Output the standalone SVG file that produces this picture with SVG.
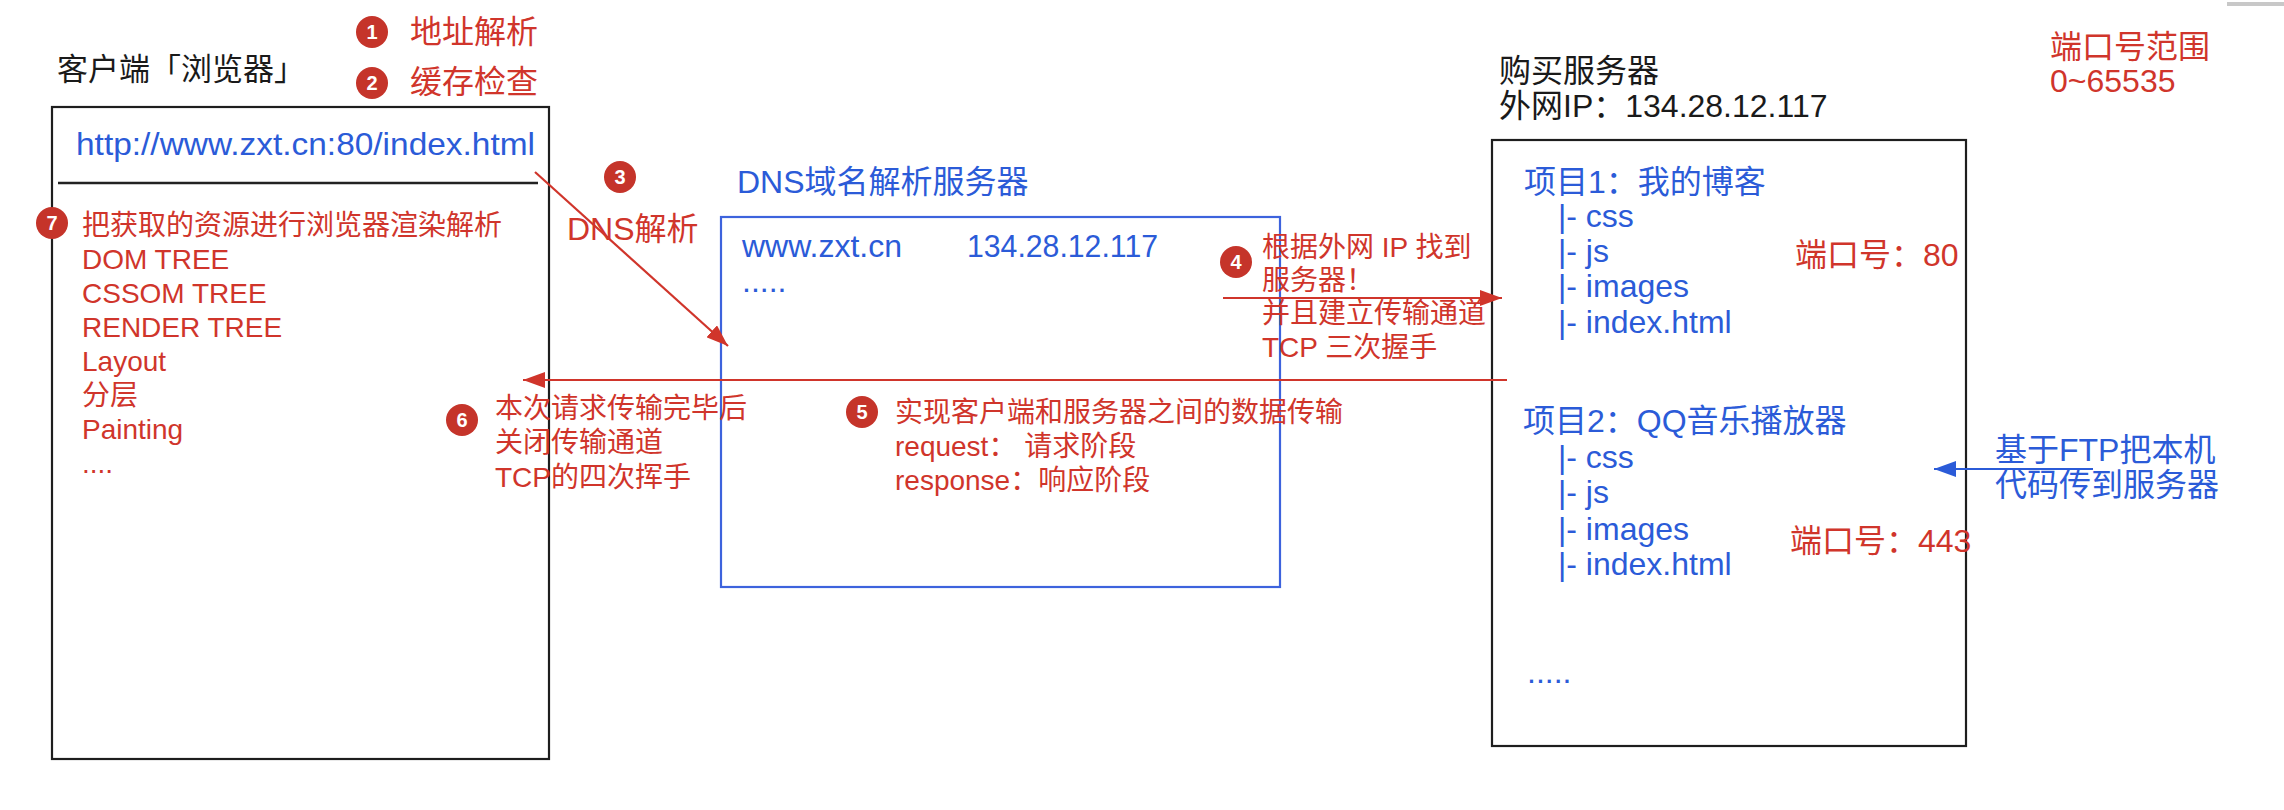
<svg xmlns="http://www.w3.org/2000/svg" width="2284" height="810" viewBox="0 0 2284 810">
<style>
text{font-family:"Liberation Sans","Noto Sans CJK SC",Arial,sans-serif;}
.blk{fill:#1a1a1a;font-size:31px;}
.blu{fill:#2b5bd8;font-size:32px;}
.red{fill:#d0352b;font-size:32px;}
.reds{fill:#d0352b;font-size:28px;}
.num{fill:#fff;font-family:"Liberation Sans",Arial,sans-serif;font-weight:bold;font-size:20px;text-anchor:middle;}
.badge{fill:#c5342a;}
.box{fill:none;stroke:#1e1e1e;stroke-width:2.2;}
.dns{fill:none;stroke:#3d63dd;stroke-width:2.2;}
.rline{stroke:#d0352b;stroke-width:2.2;fill:none;}
.bline{stroke:#2b5bd8;stroke-width:2.2;fill:none;}
</style>
<defs>
<marker id="ah-red" markerUnits="userSpaceOnUse" markerWidth="22" markerHeight="16" refX="22" refY="8" orient="auto"><path d="M0,0 L22,8 L0,16 z" fill="#d0352b"/></marker>
<marker id="ah-blue" markerUnits="userSpaceOnUse" markerWidth="22" markerHeight="16" refX="22" refY="8" orient="auto"><path d="M0,0 L22,8 L0,16 z" fill="#2b5bd8"/></marker>
</defs>
<rect x="0" y="0" width="2284" height="810" fill="#ffffff"/>
<rect x="2227" y="2" width="57" height="4" fill="#c8c8c8"/>

<g id="client">
<text class="blk" x="57" y="80">客户端「浏览器」</text>
<rect class="box" x="52" y="107" width="497" height="652"/>
<text class="blu" x="76" y="155" textLength="459" lengthAdjust="spacingAndGlyphs">http://www.zxt.cn:80/index.html</text>
<line x1="58" y1="183" x2="538" y2="183" stroke="#222" stroke-width="2.5"/>
<text class="reds" x="82" y="235">把获取的资源进行浏览器渲染解析</text>
<text class="reds" x="82" y="269">DOM TREE</text>
<text class="reds" x="82" y="303">CSSOM TREE</text>
<text class="reds" x="82" y="337">RENDER TREE</text>
<text class="reds" x="82" y="371">Layout</text>
<text class="reds" x="82" y="405">分层</text>
<text class="reds" x="82" y="439">Painting</text>
<text class="reds" x="82" y="473">....</text>
</g>

<g id="step1">
<circle class="badge" cx="372" cy="32" r="16"/><text class="num" x="372" y="39">1</text>
<text class="red" x="410" y="43">地址解析</text>
</g>
<g id="step2">
<circle class="badge" cx="372" cy="83" r="16"/><text class="num" x="372" y="90">2</text>
<text class="red" x="410" y="93">缓存检查</text>
</g>
<g id="step7">
<circle class="badge" cx="52" cy="223" r="16"/><text class="num" x="52" y="230">7</text>
</g>

<g id="dns">
<text class="blu" x="737" y="193">DNS域名解析服务器</text>
<rect class="dns" x="721" y="217" width="559" height="370"/>
<text class="blu" x="742" y="257">www.zxt.cn</text>
<text class="blu" x="967" y="257" textLength="191" lengthAdjust="spacingAndGlyphs">134.28.12.117</text>
<text class="blu" x="742" y="292">.....</text>
</g>

<g id="server">
<text class="blk" x="1499" y="82" style="font-size:32px">购买服务器</text>
<text class="blk" x="1499" y="117" style="font-size:32px">外网IP：134.28.12.117</text>
<rect class="box" x="1492" y="140" width="474" height="606"/>
<text class="blu" x="1524" y="193">项目1：我的博客</text>
<text class="blu" x="1558" y="227">|- css</text>
<text class="blu" x="1558" y="262">|- js</text>
<text class="blu" x="1558" y="297">|- images</text>
<text class="blu" x="1558" y="333">|- index.html</text>
<text class="red" x="1795" y="266">端口号：80</text>
<text class="blu" x="1523" y="432">项目2：QQ音乐播放器</text>
<text class="blu" x="1558" y="468">|- css</text>
<text class="blu" x="1558" y="503">|- js</text>
<text class="blu" x="1558" y="540">|- images</text>
<text class="blu" x="1558" y="575">|- index.html</text>
<text class="red" x="1790" y="552">端口号：443</text>
<text class="blu" x="1527" y="683">.....</text>
</g>

<g id="port-range">
<text class="red" x="2050" y="58">端口号范围</text>
<text class="red" x="2050" y="92">0~65535</text>
</g>

<g id="step3">
<circle class="badge" cx="620" cy="177" r="16"/><text class="num" x="620" y="184">3</text>
<text class="red" x="567" y="240">DNS解析</text>
</g>
<g id="step4">
<circle class="badge" cx="1236" cy="262" r="16"/><text class="num" x="1236" y="269">4</text>
<text class="reds" x="1262" y="257">根据外网 IP 找到</text>
<text class="reds" x="1262" y="290">服务器！</text>
<text class="reds" x="1262" y="323">并且建立传输通道</text>
<text class="reds" x="1262" y="357">TCP 三次握手</text>
</g>
<g id="step5">
<circle class="badge" cx="862" cy="412" r="16"/><text class="num" x="862" y="419">5</text>
<text class="reds" x="895" y="422">实现客户端和服务器之间的数据传输</text>
<text class="reds" x="895" y="456">request： 请求阶段</text>
<text class="reds" x="895" y="490">response：响应阶段</text>
</g>
<g id="step6">
<circle class="badge" cx="462" cy="420" r="16"/><text class="num" x="462" y="427">6</text>
<text class="reds" x="495" y="418">本次请求传输完毕后</text>
<text class="reds" x="495" y="452">关闭传输通道</text>
<text class="reds" x="495" y="487">TCP的四次挥手</text>
</g>
<g id="ftp">
<text class="blu" x="1995" y="461">基于FTP把本机</text>
<text class="blu" x="1995" y="496">代码传到服务器</text>
</g>

<g id="connectors">
<line class="rline" x1="535" y1="172" x2="728" y2="346" marker-end="url(#ah-red)"/>
<line class="rline" x1="1223" y1="298" x2="1502" y2="298" marker-end="url(#ah-red)"/>
<line class="rline" x1="1507" y1="380" x2="523" y2="380" marker-end="url(#ah-red)"/>
<line class="bline" x1="2093" y1="469" x2="1934" y2="469" marker-end="url(#ah-blue)"/>
</g>
</svg>
